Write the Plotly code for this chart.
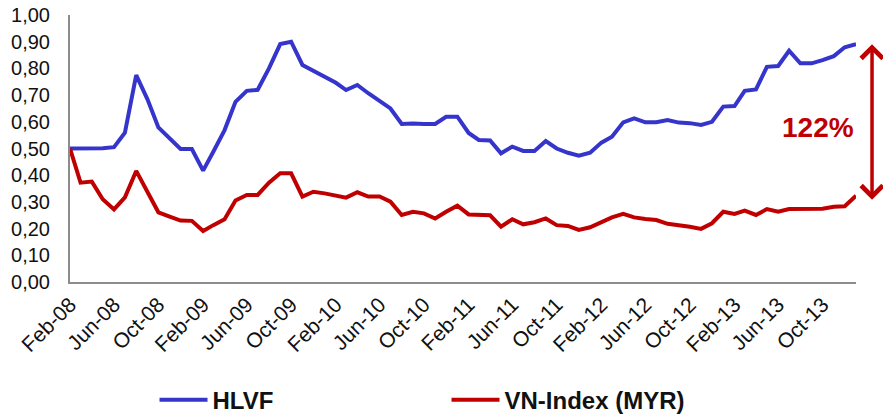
import pandas as pd
import plotly.graph_objects as go

# monthly points, Feb-08 .. Jan-14
months = pd.date_range("2008-02-01", periods=72, freq="MS")

hlvf = [0.500, 0.500, 0.500, 0.501, 0.505, 0.559, 0.775, 0.684, 0.579, 0.540,
        0.498, 0.498, 0.417, 0.488, 0.569, 0.675, 0.716, 0.720, 0.800, 0.891,
        0.900, 0.813, 0.791, 0.769, 0.746, 0.719, 0.738, 0.707, 0.679, 0.650,
        0.592, 0.594, 0.592, 0.592, 0.619, 0.619, 0.558, 0.532, 0.530, 0.482,
        0.507, 0.491, 0.491, 0.528, 0.500, 0.484, 0.473, 0.484, 0.522, 0.544,
        0.598, 0.613, 0.598, 0.598, 0.607, 0.597, 0.595, 0.588, 0.600, 0.657,
        0.659, 0.716, 0.721, 0.806, 0.809, 0.866, 0.819, 0.819, 0.831, 0.846,
        0.879, 0.891]

vn_index = [0.500, 0.372, 0.376, 0.310, 0.272, 0.317, 0.416, 0.338, 0.261, 0.245,
            0.230, 0.229, 0.191, 0.213, 0.235, 0.305, 0.326, 0.326, 0.372, 0.407,
            0.407, 0.320, 0.338, 0.332, 0.325, 0.316, 0.336, 0.320, 0.320, 0.301,
            0.251, 0.263, 0.257, 0.238, 0.263, 0.286, 0.253, 0.251, 0.250, 0.207,
            0.235, 0.216, 0.224, 0.238, 0.213, 0.210, 0.195, 0.205, 0.224, 0.242,
            0.255, 0.242, 0.236, 0.232, 0.218, 0.213, 0.207, 0.199, 0.220, 0.263,
            0.255, 0.267, 0.251, 0.273, 0.263, 0.273, 0.273, 0.273, 0.274, 0.282,
            0.284, 0.323]

outperf_label = "122%"

BLUE = "#3535CC"
RED = "#C00000"
FONT = "Liberation Sans, Arial, sans-serif"

fig = go.Figure()
fig.add_trace(go.Scatter(x=months, y=hlvf, mode="lines", name="HLVF",
                         line=dict(color=BLUE, width=4)))
fig.add_trace(go.Scatter(x=months, y=vn_index, mode="lines", name="VN-Index (MYR)",
                         line=dict(color=RED, width=4)))

# double arrow + label on the right (paper refs so it is not clipped)
fig.add_annotation(x=1.0204, xref="paper", y=vn_index[-1] - 0.015, yref="paper",
                   ax=0, ay=-157, axref="pixel", ayref="pixel",
                   text="", showarrow=True, arrowside="end+start",
                   arrowhead=4, arrowsize=1.2, arrowwidth=3.5, arrowcolor=RED)
fig.add_annotation(x=0.9517, xref="paper", xanchor="center", y=0.58, yref="paper",
                   yanchor="middle", text="<b>" + outperf_label + "</b>", showarrow=False,
                   font=dict(family=FONT, size=28, color=RED))

fig.update_layout(
    width=883, height=418,
    margin=dict(l=70, r=27, t=15, b=136, autoexpand=False),
    paper_bgcolor="white", plot_bgcolor="white",
    separators=",.",
    font=dict(family=FONT, color="#111"),
    showlegend=True,
    legend=dict(orientation="h", xref="container", yref="container",
                x=0.175, xanchor="left", y=0.043, yanchor="middle",
                itemwidth=48, entrywidth=229, entrywidthmode="pixels",
                font=dict(family=FONT, size=24, color="#111", weight="bold"),
                traceorder="normal"),
)
fig.update_xaxes(
    type="date", range=["2008-02-01", "2014-01-01"],
    tick0="2008-02-01", dtick="M4", tickformat="%b-%y", tickangle=-45,
    showgrid=False, zeroline=False, showline=True, linecolor="#8c8c8c", linewidth=2,
    ticks="", tickfont=dict(size=21, color="#111"),
)
fig.update_yaxes(
    range=[0, 1], dtick=0.1, tickformat=".2f",
    showgrid=False, zeroline=False, showline=True, linecolor="#8c8c8c", linewidth=2,
    ticks="", ticklabelstandoff=14, tickfont=dict(size=20, color="#111"),
)

# page body has a default 8px margin; drop it so the figure sits at the corner
fig.write_html("out.html", config={"displayModeBar": False},
               post_script="document.body.style.margin='0';")
